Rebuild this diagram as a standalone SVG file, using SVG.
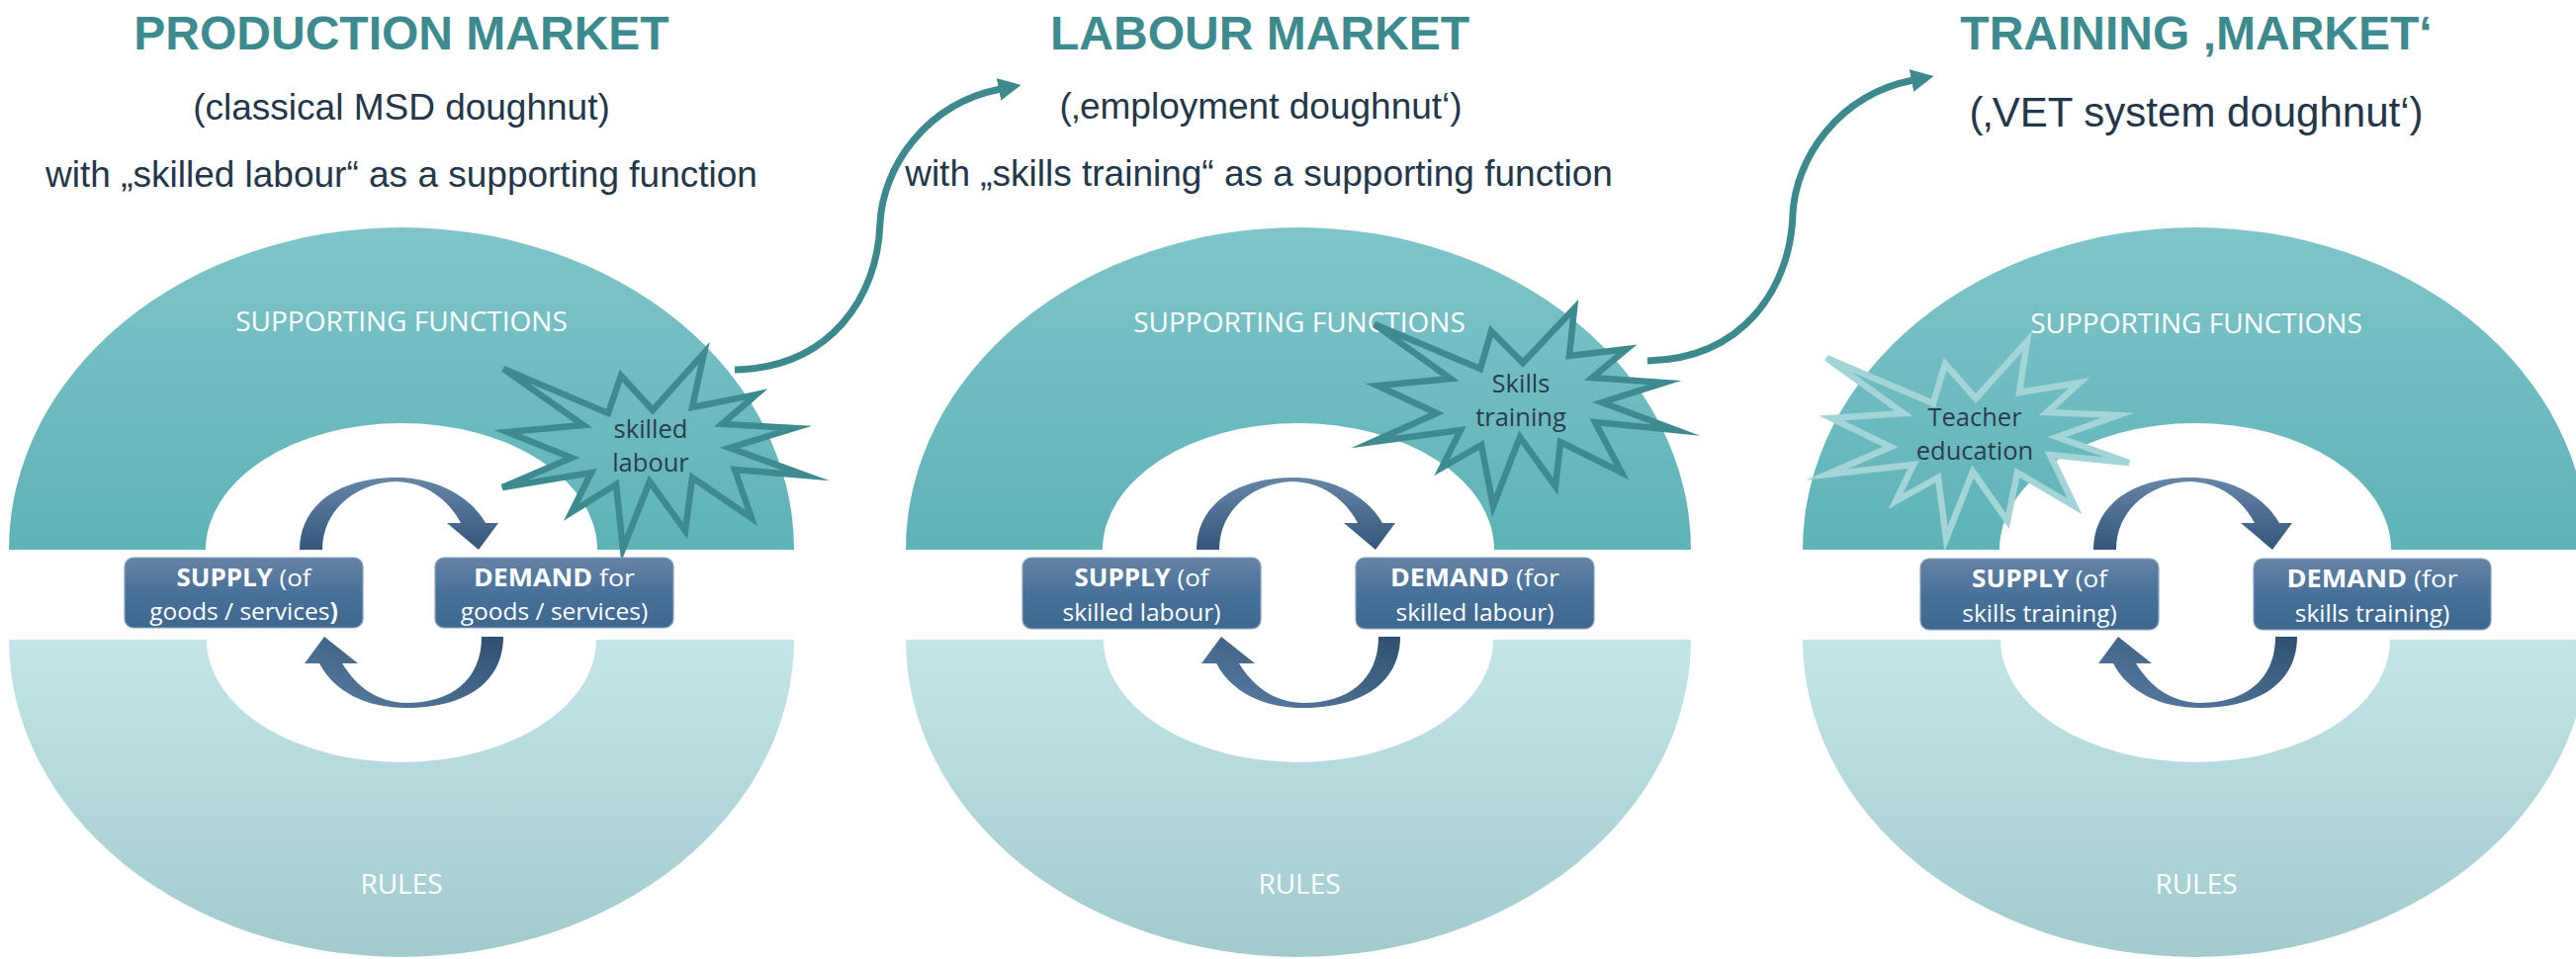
<svg xmlns="http://www.w3.org/2000/svg" width="2605" height="970" viewBox="0 0 2605 970">
<style>
.title{font-family:"Liberation Sans",Arial,sans-serif;font-weight:bold;font-size:48px;fill:#3e8b8f;text-anchor:middle}
.sub{font-family:"Liberation Sans",Arial,sans-serif;font-size:37px;fill:#24374a;text-anchor:middle}
.bandt{font-family:"Open Sans",sans-serif;font-size:28px;fill:#ffffff;text-anchor:middle}
.box{fill:url(#gBox);stroke:#89a3bf;stroke-width:1.2}
.boxt{font-family:"Open Sans",sans-serif;font-size:24.5px;fill:#ffffff;text-anchor:middle}
.b{font-weight:bold}
.star{stroke:#3e8b8f;stroke-width:6.5;fill:url(#gUp);stroke-linejoin:miter;stroke-miterlimit:8}
.star3{stroke:#a3d4d7}
.startxt{font-family:"Open Sans",sans-serif;font-size:25.5px;fill:#2b3c4e;text-anchor:middle}
.conn{fill:none;stroke:#3d8a8e;stroke-width:7;marker-end:url(#mArr)}
</style>
<defs>
<linearGradient id="gUp" gradientUnits="userSpaceOnUse" x1="0" y1="230" x2="0" y2="556">
<stop offset="0" stop-color="#7fc5c9"/><stop offset="1" stop-color="#5eb3b7"/>
</linearGradient>
<linearGradient id="gLow" gradientUnits="userSpaceOnUse" x1="0" y1="647" x2="0" y2="968">
<stop offset="0" stop-color="#c4e5e7"/><stop offset="1" stop-color="#a2cbce"/>
</linearGradient>
<linearGradient id="gBox" x1="0" y1="0" x2="0" y2="1">
<stop offset="0" stop-color="#6584a4"/><stop offset="0.5" stop-color="#48719a"/><stop offset="1" stop-color="#3e688e"/>
</linearGradient>
<linearGradient id="gArrUp" x1="0" y1="0" x2="0" y2="1">
<stop offset="0" stop-color="#6686a8"/><stop offset="1" stop-color="#33567a"/>
</linearGradient>
<linearGradient id="gArrLow" x1="1" y1="0" x2="0" y2="1">
<stop offset="0" stop-color="#2f5070"/><stop offset="1" stop-color="#5a7fa4"/>
</linearGradient>
<marker id="mArr" markerUnits="userSpaceOnUse" markerWidth="26" markerHeight="26" refX="2" refY="12" orient="auto">
<path d="M0,0.5 L23,12 L0,23.5 Z" fill="#3d8a8e"/>
</marker>
<path id="upBand" d="M-397,556 A397,326 0 0 1 397,556 L198,556 A198,128 0 0 0 -198,556 Z"/>
<path id="lowBand" d="M-397,647 A397,321 0 0 0 397,647 L197,647 A197,124 0 0 1 -197,647 Z"/>
<path id="arrUp" d="M-103,556 C-103,510 -62,483 -5,483 C35,483 70,502 85,529 L98,529 L78,556 L46,529 L60,529 C48,506 25,488 -5,487 C-45,488 -80,515 -80,556 Z"/>
<path id="arrLow" d="M103,644 C103,690 65,716 5,716 C-35,716 -68,700 -83,671 L-98,671 L-78,644 L-44,671 L-60,671 C-45,695 -25,710 5,711 C50,711 81,688 81,644 Z"/>
</defs>

<g id="titles">
<text class="title" x="406" y="50">PRODUCTION MARKET</text>
<text class="sub" x="406" y="121">(classical MSD doughnut)</text>
<text class="sub" x="406" y="189">with „skilled labour“ as a supporting function</text>
<text class="title" x="1274" y="50">LABOUR MARKET</text>
<text class="sub" x="1275" y="120">(‚employment doughnut‘)</text>
<text class="sub" x="1273" y="188">with „skills training“ as a supporting function</text>
<text class="title" x="2221" y="50">TRAINING ‚MARKET‘</text>
<text class="sub" x="2221" y="128" style="font-size:42px">(‚VET system doughnut‘)</text>
</g>

<g id="doughnut-production">
<use href="#upBand" x="406" fill="url(#gUp)"/>
<use href="#lowBand" x="406" fill="url(#gLow)"/>
<text class="bandt" x="406" y="335">SUPPORTING FUNCTIONS</text>
<text class="bandt" x="406" y="904">RULES</text>
</g>
<g id="doughnut-labour">
<use href="#upBand" x="1313" fill="url(#gUp)"/>
<use href="#lowBand" x="1313" fill="url(#gLow)"/>
<text class="bandt" x="1314" y="336">SUPPORTING FUNCTIONS</text>
<text class="bandt" x="1314" y="904">RULES</text>
</g>
<g id="doughnut-training">
<use href="#upBand" x="2220" fill="url(#gUp)"/>
<use href="#lowBand" x="2220" fill="url(#gLow)"/>
<text class="bandt" x="2221" y="337">SUPPORTING FUNCTIONS</text>
<text class="bandt" x="2221" y="904">RULES</text>
</g>

<g id="star-skilled-labour">
<polygon class="star" points="509,373 615,418 628,380 660,415 712,357 700,412 765,399 730,429 803,433 738,453 815,481 743,475 760,524 700,483 693,537 657,487 630,555 623,490 578,518 598,478 508,493 578,463 513,437 590,430"/>
<text class="startxt" x="658" y="443">skilled</text>
<text class="startxt" x="658" y="477">labour</text>
</g>
<g id="star-skills-training">
<polygon class="star" points="1390,328 1497,373 1508,335 1540,367 1592,312 1587,360 1645,353 1610,382 1683,387 1620,407 1695,435 1613,427 1640,478 1578,447 1573,492 1537,442 1510,512 1498,450 1458,473 1477,435 1388,447 1453,418 1393,390 1467,383"/>
<text class="startxt" x="1538" y="397">Skills</text>
<text class="startxt" x="1538" y="431">training</text>
</g>
<g id="star-teacher-education">
<polygon class="star star3" points="1847,362 1955,408 1967,368 1998,403 2050,345 2042,397 2103,387 2070,417 2142,420 2080,442 2153,468 2073,460 2098,512 2040,478 2030,527 1995,477 1968,545 1960,483 1917,507 1935,470 1847,480 1912,452 1852,423 1925,418"/>
<text class="startxt" x="1997" y="431">Teacher</text>
<text class="startxt" x="1997" y="465">education</text>
</g>

<g id="cycle-production">
<use href="#arrUp" x="406" fill="url(#gArrUp)"/>
<use href="#arrLow" x="406" fill="url(#gArrLow)"/>
</g>
<g id="cycle-labour">
<use href="#arrUp" x="1313" fill="url(#gArrUp)"/>
<use href="#arrLow" x="1313" fill="url(#gArrLow)"/>
</g>
<g id="cycle-training">
<use href="#arrUp" x="2220" fill="url(#gArrUp)"/>
<use href="#arrLow" x="2220" fill="url(#gArrLow)"/>
</g>

<g id="supply-goods">
<rect class="box" x="126" y="564" width="241" height="71" rx="9"/>
<text class="boxt" x="246.5" y="593" textLength="136" lengthAdjust="spacingAndGlyphs"><tspan class="b">SUPPLY</tspan> (of</text>
<text class="boxt" x="246.5" y="627">goods / services<tspan class="b">)</tspan></text>
</g>
<g id="demand-goods">
<rect class="box" x="440" y="564" width="241" height="71" rx="9"/>
<text class="boxt" x="560.5" y="593" textLength="163" lengthAdjust="spacingAndGlyphs"><tspan class="b">DEMAND</tspan> for</text>
<text class="boxt" x="560.5" y="627">goods / services)</text>
</g>
<g id="supply-labour">
<rect class="box" x="1034" y="564" width="241" height="72" rx="9"/>
<text class="boxt" x="1154.5" y="593" textLength="136" lengthAdjust="spacingAndGlyphs"><tspan class="b">SUPPLY</tspan> (of</text>
<text class="boxt" x="1154.5" y="628">skilled labour)</text>
</g>
<g id="demand-labour">
<rect class="box" x="1371" y="564" width="241" height="72" rx="9"/>
<text class="boxt" x="1491.5" y="593" textLength="171" lengthAdjust="spacingAndGlyphs"><tspan class="b">DEMAND</tspan> (for</text>
<text class="boxt" x="1491.5" y="628">skilled labour)</text>
</g>
<g id="supply-training">
<rect class="box" x="1942" y="565" width="241" height="72" rx="9"/>
<text class="boxt" x="2062.5" y="594" textLength="137" lengthAdjust="spacingAndGlyphs"><tspan class="b">SUPPLY</tspan> (of</text>
<text class="boxt" x="2062.5" y="629">skills training)</text>
</g>
<g id="demand-training">
<rect class="box" x="2279" y="565" width="240" height="72" rx="9"/>
<text class="boxt" x="2399" y="594" textLength="173" lengthAdjust="spacingAndGlyphs"><tspan class="b">DEMAND</tspan> (for</text>
<text class="boxt" x="2399" y="629">skills training)</text>
</g>

<g id="connectors">
<path class="conn" d="M743,374 C840,372 888,300 890,225 C893,170 935,105 1012,90"/>
<path class="conn" d="M1666,365 C1763,363 1811,291 1813,216 C1816,161 1858,96 1935,81"/>
</g>
</svg>
